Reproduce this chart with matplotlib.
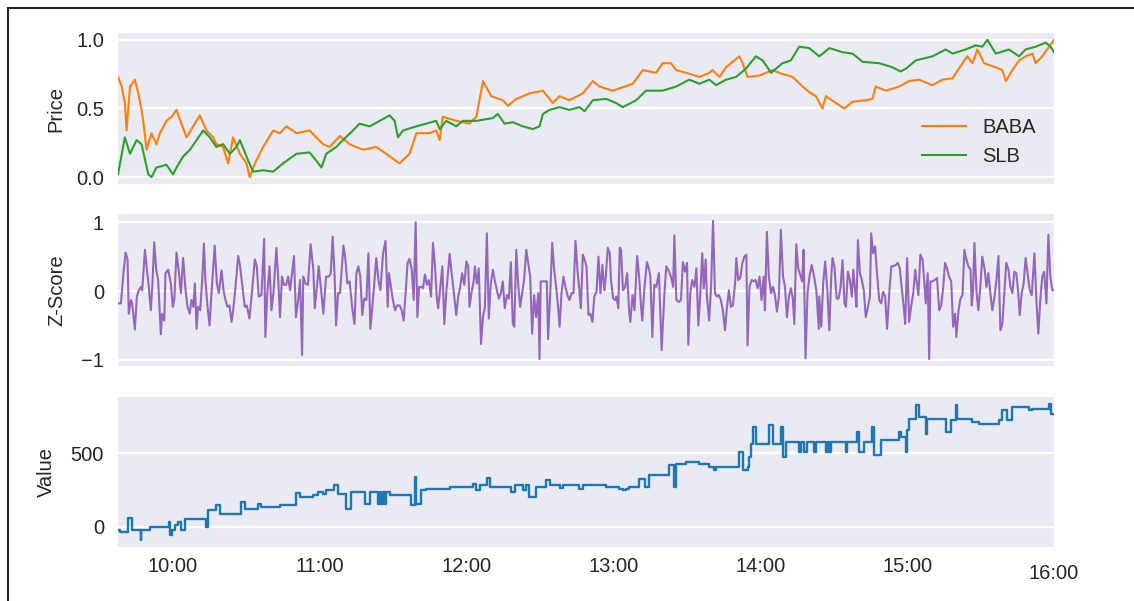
import matplotlib
matplotlib.use("Agg")
import matplotlib.pyplot as plt
import matplotlib.dates as mdates
import matplotlib.patches as mpatches
import numpy as np
import pandas as pd

plt.rcParams['font.family'] = ['Liberation Sans', 'DejaVu Sans']

# ---------------- data (minutes after 09:00) -------------
baba_min = [37.6, 39.1, 40.4, 41.1, 42.5, 44.5, 45.9, 47.2, 47.9, 49.3, 51.3, 53.3, 54.7, 57.4, 59.5,
            61.5, 63.5, 65.6, 68.3, 71.0, 73.7, 76.5, 77.8, 80.5, 82.6, 84.6, 87.4, 90.1, 91.4, 93.5,
            96.9, 101.0, 103.7, 106.4, 110.5, 115.9, 118.6, 121.4, 124.1, 128.2, 132.2, 137.7, 143.1,
            147.2, 152.6, 156.7, 159.5, 164.9, 167.6, 169.0, 170.3, 175.8, 181.2, 184.0, 186.7, 190.1,
            194.8, 196.9, 200.3, 205.7, 211.2, 215.2, 218.0, 222.0, 227.5,
            231.6, 234.3, 239.7, 247.9, 252.0, 257.4, 260.1, 263.5, 265.6, 269.7, 275.1, 279.2, 280.5,
            283.3, 286.0, 291.4, 292.8, 294.8, 299.6, 305.0, 307.7, 313.2, 317.3, 320.0, 322.7, 325.4,
            326.8, 330.9, 334.3, 337.7, 343.1, 345.8, 347.2, 351.3, 356.7, 360.8, 364.9, 370.3, 374.4,
            378.5, 382.6, 384.6, 386.7, 388.7, 391.4, 396.2, 398.9, 400.3, 403.0, 405.7, 408.4, 411.2,
            412.5, 415.2, 418.0, 420.0]
baba_val = [0.73, 0.66, 0.54, 0.34, 0.66, 0.71, 0.61, 0.49, 0.41, 0.20, 0.32, 0.24, 0.32, 0.41, 0.44,
            0.49, 0.39, 0.29, 0.37, 0.45, 0.34, 0.29, 0.24, 0.22, 0.10, 0.29, 0.17, 0.10, 0.00, 0.10,
            0.22, 0.34, 0.32, 0.37, 0.32, 0.34, 0.29, 0.24, 0.22, 0.30, 0.24, 0.20, 0.22,
            0.17, 0.10, 0.17, 0.32, 0.32, 0.34, 0.27, 0.44, 0.41, 0.39, 0.44, 0.70, 0.59,
            0.56, 0.52, 0.57, 0.61, 0.63, 0.54, 0.59, 0.56, 0.61,
            0.70, 0.66, 0.63, 0.68, 0.78, 0.76, 0.83, 0.83, 0.78, 0.76, 0.73, 0.76, 0.78,
            0.73, 0.80, 0.88, 0.83, 0.73, 0.74, 0.78, 0.76, 0.73, 0.66, 0.62, 0.59, 0.50,
            0.59, 0.54, 0.50, 0.55, 0.56, 0.57, 0.66, 0.63, 0.66, 0.70, 0.71, 0.67, 0.71,
            0.72, 0.83, 0.88, 0.83, 0.93, 0.83, 0.80, 0.78, 0.70, 0.78, 0.85, 0.88, 0.90,
            0.83, 0.88, 0.95, 1.00]

slb_min = [37.6, 40.4, 42.5, 45.2, 47.2, 50.0, 51.3, 53.3, 57.4, 60.1, 61.5, 64.2, 67.0, 69.7, 72.4,
           75.1, 77.8, 80.5, 83.3, 86.0, 87.4, 90.8, 92.8, 96.9, 101.0, 105.0, 110.5, 115.9, 118.6,
           120.7, 122.7, 126.8, 129.5, 133.6, 136.3, 140.4, 144.5, 148.6, 150.6, 152.0, 154.0, 159.5,
           163.5, 167.6, 169.0, 171.7, 175.8, 178.5, 184.0, 190.7, 192.8, 195.5, 198.9, 203.0, 207.1,
           209.8, 211.2, 213.9, 218.0, 222.0, 226.1, 228.2, 231.6, 237.0, 241.1, 243.8, 249.3, 253.3,
           260.1, 265.6, 271.0, 275.1, 279.2, 281.9, 286.0, 290.1, 294.1, 298.2, 301.0, 304.4, 309.1,
           312.5, 315.9, 320.0, 324.1, 328.2, 333.6, 337.7, 341.8, 348.6, 354.0, 357.4, 359.5, 363.5,
           370.3, 375.8, 378.5, 383.9, 388.0, 390.7, 392.8, 396.2, 401.6, 405.7, 408.4, 412.5, 416.6,
           418.6, 420.0]
slb_val = [0.02, 0.29, 0.17, 0.27, 0.24, 0.02, 0.00, 0.07, 0.09, 0.02, 0.07, 0.15, 0.20, 0.27, 0.34,
           0.29, 0.22, 0.24, 0.17, 0.22, 0.27, 0.12, 0.04, 0.05, 0.04, 0.10, 0.17, 0.18, 0.12,
           0.07, 0.17, 0.22, 0.27, 0.34, 0.39, 0.37, 0.41, 0.45, 0.41, 0.29, 0.34, 0.37,
           0.39, 0.41, 0.35, 0.41, 0.37, 0.41, 0.41, 0.43, 0.46, 0.39, 0.40, 0.37, 0.35,
           0.37, 0.46, 0.49, 0.51, 0.49, 0.51, 0.48, 0.56, 0.57, 0.54, 0.51, 0.56, 0.63,
           0.63, 0.66, 0.71, 0.68, 0.71, 0.67, 0.71, 0.73, 0.79, 0.88, 0.85, 0.76, 0.83,
           0.85, 0.95, 0.94, 0.88, 0.94, 0.91, 0.90, 0.84, 0.83, 0.80, 0.77, 0.79, 0.85,
           0.88, 0.93, 0.90, 0.93, 0.96, 0.95, 1.00, 0.90, 0.93, 0.88, 0.93, 0.95, 0.98,
           0.95, 0.91]

z_min = [37.6, 38.8, 39.7, 40.7, 41.5, 42.0, 42.9, 43.4, 44.5, 45.3,
         46.1, 46.9, 47.5, 48.6, 49.4, 50.2, 51.0, 51.6, 52.4, 53.2,
         54.0, 55.1, 55.6, 56.5, 57.0, 58.1, 59.2, 60.0, 60.6, 61.5,
         62.5, 63.3, 64.2, 65.2, 66.0, 66.9, 67.6, 68.4, 69.0, 69.7,
         70.3, 71.2, 72.0, 72.7, 73.3, 74.2, 75.0, 75.8, 77.1, 78.0,
         78.8, 79.9, 80.7, 81.5, 82.3, 83.1, 84.0, 84.8, 85.6, 86.7,
         87.5, 88.6, 89.4, 90.2, 91.3, 92.4, 93.5, 94.3, 95.1, 96.2,
         97.3, 97.8, 98.6, 99.5, 100.3, 101.1, 102.3, 103.0, 103.8, 104.6,
         105.4, 106.3, 107.1, 107.9, 108.7, 109.5, 110.3, 111.2, 112.0, 112.8,
         113.3, 114.2, 115.2, 116.3, 117.4, 118.0, 118.8, 119.6, 120.7, 121.5,
         122.6, 123.7, 124.5, 125.3, 126.1, 126.7, 127.5, 128.3, 129.7, 130.5,
         131.3,
         132.2, 133.3, 134.2, 135.0, 135.8, 136.6, 137.4, 138.2, 139.1, 139.9,
         140.7, 141.5, 142.3, 143.1, 144.0, 144.8, 145.9, 146.9, 147.8, 148.3,
         149.1, 149.9, 150.8, 151.6, 152.7, 153.5, 154.3, 155.1, 155.9, 156.7,
         157.6, 158.4, 159.2, 159.9, 160.6, 161.4, 162.2, 163.0, 163.8, 164.6,
         165.5, 166.3, 167.1, 167.9, 168.4, 169.3, 170.1, 170.9, 171.7, 173.1,
         173.9, 174.7, 175.8, 176.6, 177.4, 178.2, 179.1, 179.9, 180.7, 181.2,
         182.0, 182.9, 183.4, 184.2, 185.0, 185.9, 186.7, 187.5, 188.3, 189.1,
         189.9, 190.8, 191.6, 192.4, 193.2, 194.0, 194.8, 195.6, 196.5, 197.3,
         198.1, 198.9, 199.5, 200.3, 201.1, 201.9, 202.7, 203.5, 204.4, 205.2,
         206.0, 206.8, 207.6, 208.4, 209.3, 209.8, 210.3, 211.2, 212.8, 213.3,
         214.2, 215.0, 215.8, 216.6, 217.4, 218.0, 218.8, 219.6, 220.4, 221.2,
         222.0, 222.9, 223.7, 224.5, 225.3, 226.1, 226.7, 227.5,
         228.2, 229.0, 229.8, 230.6, 231.4, 232.2, 233.1, 233.9, 234.7, 235.5,
         236.3, 236.9, 237.7, 238.5, 239.0, 239.9, 240.7, 241.2, 242.0, 242.6,
         243.1, 243.9, 244.8, 245.6, 246.4, 246.9, 247.8, 248.6, 249.7, 250.5,
         251.3, 251.8, 252.7, 253.7, 254.6, 255.1, 255.9, 256.7, 257.5, 258.6,
         259.7, 260.8, 261.6, 262.4, 263.5, 264.4, 264.9, 265.7, 266.8, 267.6,
         268.4, 269.3, 270.1, 270.6, 271.4, 272.2, 273.1, 273.9, 274.7, 275.5,
         276.3, 276.9, 277.7, 278.2, 279.1, 279.9, 280.7, 281.5, 282.3, 283.1,
         283.9, 284.8, 285.6, 286.4, 287.2, 288.0, 288.8, 289.7, 290.2, 291.0,
         291.8, 292.7, 293.5, 294.3, 294.8, 295.6, 296.5, 297.3, 298.1, 298.9,
         299.7, 300.5, 301.4, 301.9, 302.7, 303.5, 304.4, 305.2, 306.0, 306.8,
         307.6, 308.4, 309.3, 310.1, 310.9, 311.7, 312.5, 313.3, 313.9, 314.7,
         315.5, 316.3, 317.1, 317.7, 318.5, 319.3, 320.1, 321.0, 322.0, 322.9,
         323.9,
         324.1, 324.9, 325.7, 326.5, 327.4, 328.2, 329.0, 329.5, 330.3, 331.2,
         332.0, 332.8, 333.6, 334.4, 335.0, 335.8, 336.6, 337.4, 338.0, 338.8,
         339.3, 339.9, 340.7, 341.5, 342.3, 343.1, 344.0, 344.8, 345.3, 346.1,
         346.9, 347.8, 348.6, 349.4, 350.2, 351.0, 351.8, 352.7, 353.5, 354.3,
         355.4, 356.2, 357.0, 357.8, 358.6, 359.2, 360.0, 360.8, 361.6, 362.5,
         363.3, 363.8, 364.6, 365.4, 366.3, 367.1, 367.6, 368.4, 369.0, 369.5,
         370.3, 371.2, 372.2, 373.1, 373.9, 374.7, 375.5, 376.3, 377.1, 378.0,
         378.8, 379.6, 380.1, 381.0, 381.8, 382.6, 383.4, 384.2, 385.0, 385.9,
         386.4, 386.9, 387.5, 388.3, 389.1, 389.9, 390.7, 391.6, 392.4, 393.2,
         394.0, 394.8, 395.6, 396.5, 397.3, 398.1, 398.9, 399.7, 400.5, 401.4,
         402.2, 403.0, 403.8, 404.6, 405.4, 406.0, 406.8, 407.6, 408.4, 409.2,
         410.1, 410.9, 412.0, 412.8, 413.6, 414.4, 415.2, 416.0, 416.9, 417.7,
         418.5, 419.3, 420.0]
z_val = [-0.18, -0.18, 0.21, 0.56, 0.46, -0.33, -0.13, -0.18, -0.56, -0.08,
         0.01, 0.06, 0.01, 0.60, 0.31, 0.06, -0.28, 0.06, 0.71, 0.31,
         0.16, -0.63, -0.33, -0.43, 0.26, 0.31, 0.11, -0.23, -0.13, 0.56,
         0.26, -0.03, 0.48, 0.01, -0.23, -0.33, -0.13, -0.23, 0.11, -0.55,
         -0.23, -0.28, 0.16, 0.69, 0.16, -0.23, -0.50, -0.03, 0.66, 0.11,
         -0.03, 0.30, 0.01, -0.13, -0.23, -0.21, -0.45, -0.23, 0.06, 0.51,
         0.36, 0.01, -0.23, -0.21, -0.40, 0.01, 0.46, 0.36, -0.08, -0.06,
         0.76, -0.67, -0.03, 0.36, -0.28, -0.03, 0.63, 0.21, -0.38, 0.21,
         0.09, 0.09, 0.21, 0.01, 0.26, 0.51, -0.38, -0.13, 0.16, -0.93,
         0.21, 0.11, 0.09, 0.68, 0.31, -0.25, 0.04, 0.36, -0.03, -0.33,
         0.21, 0.21, 0.25, 0.79, 0.21, -0.50, -0.03, -0.03, 0.66, 0.46,
         0.11,
         0.14, -0.25, -0.48, 0.26, 0.36, 0.21, -0.35, -0.11, -0.13, 0.55,
         -0.55, -0.23, 0.11, 0.48, 0.16, 0.01, 0.55, 0.73, -0.23, 0.26,
         0.06, -0.13, -0.28, -0.21, -0.21, -0.28, -0.43, -0.03, 0.41, 0.47,
         0.31, -0.13, 1.00, -0.38, 0.06, 0.06, 0.04, 0.24, 0.09, 0.16,
         -0.08, 0.70, 0.36, -0.13, -0.25, 0.06, 0.36, -0.48, -0.03, 0.54,
         0.26, 0.01, -0.35, -0.08, 0.06, 0.26, 0.09, 0.43, 0.36, -0.23,
         -0.03, 0.14, 0.36, 0.11, 0.33, -0.77, -0.38, -0.23, 0.84, -0.40,
         0.11, 0.31, 0.14, 0.01, -0.11, -0.03, 0.14, -0.25, -0.06, -0.11,
         0.42, -0.48, -0.52, 0.60, 0.09, -0.23, -0.03, 0.16, 0.60, 0.41,
         0.21, -0.62, -0.06, -0.38, -0.03, -0.99, 0.14, 0.14, 0.14, -0.70,
         -0.03, 0.70, 0.31, 0.06, -0.23, -0.52, -0.03, 0.21, 0.06, -0.06,
         -0.13, -0.03, -0.03, 0.73, 0.31, 0.01, -0.25, 0.53,
         0.46, 0.36, -0.35, -0.33, -0.45, -0.08, -0.01, 0.50, -0.03, 0.38,
         0.01, 0.21, 0.63, 0.55, 0.16, -0.11, -0.13, -0.08, -0.25, 0.63,
         0.60, 0.01, 0.06, 0.26, -0.28, -0.45, -0.06, -0.28, 0.51, 0.21,
         -0.23, -0.43, 0.06, 0.42, 0.31, 0.21, -0.67, 0.09, 0.06, 0.26,
         -0.86, -0.06, 0.36, 0.31, 0.21, 0.06, 0.81, -0.13, -0.16, -0.13,
         0.42, 0.28, 0.41, -0.78, -0.03, 0.16, 0.06, 0.33, -0.50, -0.03,
         0.55, 0.04, 0.46, -0.08, -0.43, 0.06, 1.02, -0.03, -0.08, -0.06,
         -0.13, -0.30, -0.57, -0.23, 0.01, -0.23, -0.21, 0.11, 0.48, 0.16,
         0.19, 0.41, 0.50, 0.53, -0.79, 0.06, 0.16, 0.14, 0.16, 0.04,
         0.21, -0.13, 0.21, -0.28, 0.86, 0.21, -0.03, 0.06, -0.06, -0.30,
         -0.08, 0.89, 0.21, 0.06, -0.38, -0.08, 0.04, -0.11, -0.48, 0.68,
         0.33, 0.24, 0.14, 0.60, -0.98, -0.03, 0.21, 0.38, 0.21, 0.01,
         -0.55,
         -0.08, -0.52, 0.11, 0.43, 0.01, -0.57, 0.21, 0.48, 0.36, -0.11,
         -0.11, 0.06, 0.45, -0.18, -0.23, 0.28, 0.16, -0.08, 0.31, -0.01,
         -0.23, 0.74, 0.26, 0.16, 0.01, -0.38, -0.23, -0.08, 0.84, 0.55,
         0.65, 0.21, -0.13, -0.18, -0.01, -0.08, -0.55, -0.03, 0.36, 0.36,
         0.38, 0.41, 0.33, 0.04, -0.23, -0.48, 0.48, -0.45, -0.23, -0.03,
         0.31, 0.16, -0.06, 0.53, 0.46, 0.09, -0.18, 0.26, -0.99, 0.14,
         0.14, 0.16, 0.19, -0.28, -0.21, 0.04, 0.41, 0.33, 0.21, 0.14,
         -0.52, -0.33, -0.67, -0.28, -0.11, -0.06, 0.60, 0.46, 0.36, 0.31,
         -0.21, -0.01, 0.70, 0.01, -0.28, 0.06, 0.50, 0.33, 0.06, 0.26,
         -0.03, -0.28, -0.11, 0.16, 0.51, -0.57, -0.48, -0.03, 0.41, 0.31,
         0.06, -0.03, 0.28, 0.26, -0.03, -0.35, -0.03, 0.11, 0.48, 0.26,
         0.01, -0.06, 0.55, -0.13, -0.62, -0.13, 0.21, 0.28, -0.18, 0.82,
         0.21, 0.01, 0.01]

value_min = [37.6, 38.4, 41.8, 43.5, 46.8, 47.2, 50.6, 58.5, 58.8, 59.5, 60.8, 62.2, 63.5, 64.9, 73.7,
             74.2, 77.8, 79.2, 88.0, 89.4, 94.8, 96.2, 103.7, 110.5, 111.8, 117.3, 119.3, 121.4, 122.7,
             125.7, 127.5, 130.9, 132.9, 138.4, 140.4, 143.8, 144.5, 145.2, 145.9, 146.5, 147.2, 148.6,
             157.4, 158.8, 159.5, 161.5, 163.5, 173.1, 182.6, 184.0, 185.3, 188.3, 189.4, 198.2, 199.6,
             203.0, 204.3, 205.7, 208.4, 212.5, 213.9, 218.0, 219.3, 226.1, 227.5, 237.0, 242.4, 243.8,
             245.2, 246.5, 250.6, 252.7, 254.7, 262.9, 264.9, 265.6, 269.7, 275.1, 279.2, 281.2, 281.9,
             291.2, 292.8, 294.8, 295.5, 296.2, 297.1, 298.2, 303.7, 305.3, 308.4, 309.1, 310.5, 315.9,
             316.6, 318.0, 319.0, 322.0, 322.7, 326.8, 327.5, 328.2, 328.8, 335.0, 335.6, 339.7, 340.4,
             342.4, 345.8, 346.5, 349.2, 356.7, 357.4, 359.5, 360.1, 360.8, 363.5, 364.9, 367.6, 368.3,
             375.8, 377.8, 379.9, 380.5, 386.7, 389.4, 397.5, 398.9, 400.9, 403.0, 409.8, 411.1, 417.9,
             418.6, 420.0]
value_val = [-23, -34, 61, -23, -90, -23, 0, 34, -56, -23, 11, 34, -23, 56, 0,
             113, 146, 90, 169, 124, 158, 135, 146, 230, 203, 214, 236, 225, 248,
             281, 225, 124, 236, 158, 236, 158, 236, 158, 236, 158, 236, 214,
             146, 338, 158, 248, 259, 270, 293, 248, 281, 333, 270, 236, 281,
             248, 281, 203, 270, 315, 281, 266, 281, 259, 281, 270, 259, 248,
             259, 270, 326, 270, 349, 417, 270, 428, 439, 428, 405, 383, 405,
             507, 383, 405, 473, 563, 676, 563, 687, 563, 676, 473, 574, 507,
             574, 507, 574, 507, 574, 507, 574, 507, 574, 507, 574, 642, 507,
             574, 676, 484, 585, 642, 608, 507, 653, 732, 822, 743, 631, 732,
             642, 721, 822, 732, 709, 698, 721, 788, 721, 811, 788, 799, 833,
             766, 766]

price_labels = ['BABA', 'SLB']
hour_ticks = ['10:00', '11:00', '12:00', '13:00', '14:00', '15:00']
close_tick = '16:00'

# ---------------- helpers -------------
DAY = '2021-03-01'
BASE = pd.Timestamp(DAY + ' 09:00')


def to_time(mins):
    return BASE + pd.to_timedelta(np.asarray(mins, dtype=float), unit='min')


BG = '#EAEAF2'
TXT = '#262626'
FS = 14.5

fig = plt.figure(figsize=(11.34, 6.01), dpi=100)
W, H = 1134.0, 601.0


def add_ax(x0, y0, x1, y1):
    ax = fig.add_axes([x0 / W, 1 - y1 / H, (x1 - x0) / W, (y1 - y0) / H])
    ax.set_facecolor(BG)
    for s in ax.spines.values():
        s.set_visible(False)
    ax.grid(axis='y', color='white', linewidth=1.7)
    ax.grid(axis='x', visible=False)
    ax.set_axisbelow(True)
    ax.tick_params(axis='both', which='both', length=0, labelsize=FS, colors=TXT)
    ax.tick_params(axis='y', pad=10)
    return ax


ax1 = add_ax(118, 33, 1054, 184)
ax2 = add_ax(118, 214, 1054, 366)
ax3 = add_ax(118, 397, 1054, 547)

ax1.plot(to_time(baba_min), baba_val, color='#ff7f0e', lw=1.5, label=price_labels[0])
ax1.plot(to_time(slb_min), slb_val, color='#2ca02c', lw=1.5, label=price_labels[1])
ax1.set_ylabel('Price', fontsize=FS, color=TXT)
ax1.set_yticks([0.0, 0.5, 1.0])
ax1.set_yticklabels(['0.0', '0.5', '1.0'])
leg = ax1.legend(loc='lower right', frameon=False, fontsize=FS, handlelength=2.2)
for t in leg.get_texts():
    t.set_color(TXT)

ax2.plot(to_time(z_min), z_val, color='#9467bd', lw=1.5)
ax2.set_ylabel('Z-Score', fontsize=FS, color=TXT)
ax2.set_yticks([-1, 0, 1])

ax3.plot(to_time(value_min), value_val, color='#1f77b4', lw=1.7, drawstyle='steps-post')
ax3.set_ylabel('Value', fontsize=FS, color=TXT)
ax3.set_yticks([0, 500])

t0 = to_time([min(baba_min + slb_min)])[0]
t1 = pd.Timestamp(DAY + ' ' + close_tick)
for ax in (ax1, ax2, ax3):
    ax.set_xlim(mdates.date2num(t0), mdates.date2num(t1))
    ax.margins(y=0.05)

major = [mdates.date2num(pd.Timestamp(DAY + ' ' + h)) for h in hour_ticks]
for ax in (ax1, ax2):
    ax.set_xticks(major)
    ax.set_xticklabels([])
ax3.set_xticks(major)
ax3.set_xticklabels(hour_ticks)
ax3.set_xticks([mdates.date2num(t1)], minor=True)
ax3.set_xticklabels([close_tick], minor=True)
ax3.tick_params(axis='x', which='major', pad=7)
ax3.tick_params(axis='x', which='minor', pad=12)

ax1.yaxis.set_label_coords(-0.0565, 0.5)
ax2.yaxis.set_label_coords(-0.0555, 0.5)
ax3.yaxis.set_label_coords(-0.066, 0.5)

# outer frame of the original screenshot
frame = mpatches.Rectangle((8 / W, -0.2), 1.5, 1.2 - 8 / H, transform=fig.transFigure,
                           fill=False, edgecolor='#222222', linewidth=1.5, clip_on=False)
fig.add_artist(frame)

fig.savefig('out.png', dpi=100, facecolor='white')
